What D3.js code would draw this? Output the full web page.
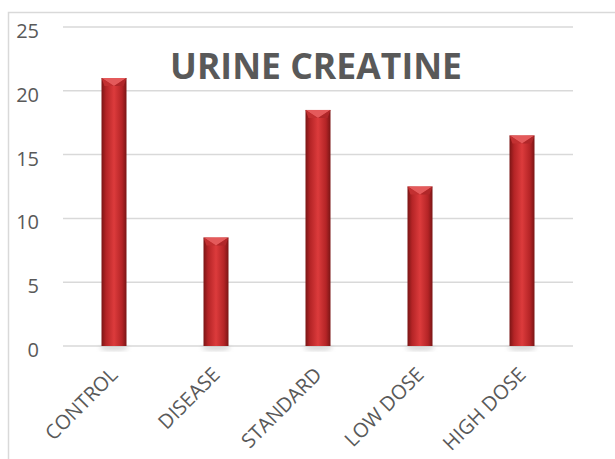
<!DOCTYPE html>
<html>
<head>
<meta charset="utf-8">
<script src="https://cdn.jsdelivr.net/npm/d3@7"></script>
<style>
  body { margin: 0; background: #fff; }
  svg text { font-family: "Open Sans", "Liberation Sans", sans-serif; fill: #595959; }
</style>
</head>
<body>
<div id="chart"></div>
<script>
// data
var categories = ["CONTROL", "DISEASE", "STANDARD", "LOW DOSE", "HIGH DOSE"];
var values = [21, 8.5, 18.5, 12.5, 16.5];
var yTicks = [0, 5, 10, 15, 20, 25];
var chartTitle = "URINE CREATINE";

var W = 615, H = 459;
var plot = { left: 63, right: 573, top: 27, bottom: 346 };

var svg = d3.select("#chart").append("svg")
  .attr("width", W)
  .attr("height", H);

// chart area frame (runs off the right and bottom edges)
svg.append("rect")
  .attr("x", 8.5).attr("y", 12.5)
  .attr("width", 700).attr("height", 600)
  .attr("fill", "none")
  .attr("stroke", "#d9d9d9")
  .attr("stroke-width", 1.5);

var x = d3.scaleBand()
  .domain(categories)
  .range([plot.left, plot.right]);

var y = d3.scaleLinear()
  .domain([0, 25])
  .range([plot.bottom, plot.top]);

//////////////////// gradients ////////////////////
var defs = svg.append("defs");
var g = defs.append("linearGradient")
  .attr("id", "barGrad")
  .attr("x1", "0%").attr("x2", "100%").attr("y1", "0%").attr("y2", "0%");
[["0%", "#7a1515"], ["18%", "#b42426"], ["50%", "#dc3b3c"], ["82%", "#b42426"], ["100%", "#7a1515"]]
  .forEach(function(s) { g.append("stop").attr("offset", s[0]).attr("stop-color", s[1]); });

var shadow = defs.append("filter").attr("id", "blur")
  .attr("x", "-50%").attr("y", "-50%").attr("width", "200%").attr("height", "200%");
shadow.append("feGaussianBlur").attr("stdDeviation", 2);

//////////////////// gridlines + y labels ////////////////////
svg.append("g").selectAll("line")
  .data(yTicks)
  .enter().append("line")
  .attr("x1", plot.left).attr("x2", plot.right)
  .attr("y1", function(d) { return y(d); })
  .attr("y2", function(d) { return y(d); })
  .attr("stroke", "#d9d9d9")
  .attr("stroke-width", 1.5);

svg.append("g").selectAll("text")
  .data(yTicks)
  .enter().append("text")
  .attr("x", 39)
  .attr("y", function(d) { return y(d) + 11; })
  .attr("text-anchor", "end")
  .style("font-size", "20px")
  .text(function(d) { return d; });

//////////////////// bars ////////////////////
var bw = 25, bevel = 8;
var bars = svg.append("g").selectAll("g")
  .data(values)
  .enter().append("g");

// soft shadow under the bar foot
bars.append("ellipse")
  .attr("cx", function(d, i) { return x(categories[i]) + x.bandwidth() / 2; })
  .attr("cy", y(0) + 2)
  .attr("rx", bw / 2 + 2)
  .attr("ry", 2)
  .attr("fill", "#999")
  .attr("opacity", 0.5)
  .attr("filter", "url(#blur)");

bars.append("rect")
  .attr("x", function(d, i) { return x(categories[i]) + x.bandwidth() / 2 - bw / 2; })
  .attr("y", function(d) { return y(d); })
  .attr("width", bw)
  .attr("height", function(d) { return y(0) - y(d); })
  .attr("fill", "url(#barGrad)");

// bevel on the top of each bar
bars.append("path")
  .attr("d", function(d, i) {
    var cx = x(categories[i]) + x.bandwidth() / 2, t = y(d);
    return "M" + (cx - bw / 2) + "," + t + "L" + (cx + bw / 2) + "," + t +
      "L" + cx + "," + (t + bevel) + "Z";
  })
  .attr("fill", "#e45a5b");
bars.append("path")
  .attr("d", function(d, i) {
    var cx = x(categories[i]) + x.bandwidth() / 2, t = y(d);
    return "M" + (cx - bw / 2) + "," + t + "L" + cx + "," + (t + bevel) +
      "L" + (cx - bw / 2 + 3) + "," + (t + bevel) + "Z";
  })
  .attr("fill", "#c23031");
bars.append("path")
  .attr("d", function(d, i) {
    var cx = x(categories[i]) + x.bandwidth() / 2, t = y(d);
    return "M" + (cx + bw / 2) + "," + t + "L" + cx + "," + (t + bevel) +
      "L" + (cx + bw / 2 - 3) + "," + (t + bevel) + "Z";
  })
  .attr("fill", "#b02729");

//////////////////// category labels ////////////////////
svg.append("g").selectAll("text")
  .data(categories)
  .enter().append("text")
  .attr("text-anchor", "end")
  .attr("transform", function(d) {
    return "translate(" + (x(d) + x.bandwidth() / 2 + 5) + "," + 376 + ") rotate(-45)";
  })
  .style("font-size", "20px")
  .text(function(d) { return d; });

//////////////////// title ////////////////////
svg.append("text")
  .attr("x", 316)
  .attr("y", 79)
  .attr("text-anchor", "middle")
  .attr("textLength", 292)
  .attr("lengthAdjust", "spacingAndGlyphs")
  .style("font-size", "35px")
  .style("font-weight", "bold")
  .text(chartTitle);
</script>
</body>
</html>
